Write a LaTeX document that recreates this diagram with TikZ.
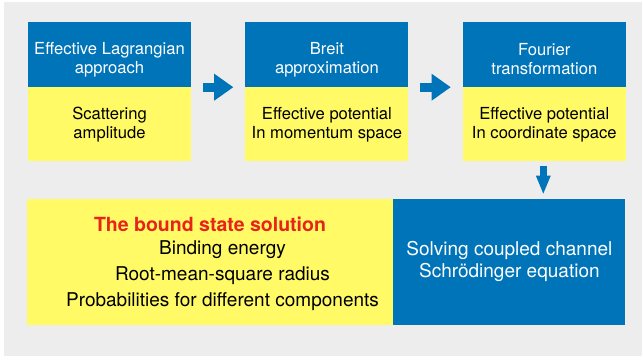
\documentclass[tikz,border=0pt]{standalone}
\usepackage{fontspec}
\setmainfont{TeX Gyre Heros}
\usepackage{xcolor}
\usepackage{tikz}
\usetikzlibrary{arrows.meta, positioning, calc}
\definecolor{hblue}{RGB}{0,116,185}
\definecolor{byellow}{RGB}{255,250,102}
\definecolor{bggray}{RGB}{237,237,237}
\definecolor{tred}{RGB}{232,35,26}
\tikzset{
    head/.style={
        rectangle,
        fill=hblue,
        inner sep=0pt,
        minimum width=163pt,
        minimum height=65pt,
    },
    headtxt/.style={
        align=center,
        text=white,
        inner sep=0pt,
        font=\fontsize{16.6}{19}\selectfont,
    },
    body/.style={
        rectangle,
        fill=byellow,
        inner sep=0pt,
        minimum width=163pt,
        minimum height=74pt,
        align=center,
        font=\fontsize{16.6}{19}\selectfont,
    },
    flow/.style={
        draw=hblue,
        line width=9pt,
        -{Triangle[length=19pt,width=27pt,line width=0pt]},
    },
    flowdown/.style={
        draw=hblue,
        line width=7pt,
        -{Triangle[length=18pt,width=15pt,line width=0pt]},
    },
}

\begin{document}
\begin{tikzpicture}[x=1pt,y=-1pt]
      \useasboundingbox (0,0) rectangle (642,358);
      \fill[bggray] (4,2) rectangle (642,356);

      \node [head] (lag) at (109.5,54.5) {};
      \node [headtxt] (lagtxt) at ([yshift=-5.5pt]lag.center) {Effective Lagrangian\\approach};
      \node [body, below=0pt of lag] (amp) {Scattering\\amplitude};

      \node [head, right=54pt of lag] (breit) {};
      \node [headtxt] (breittxt) at ([yshift=-5.5pt]breit.center) {Breit\\approximation};
      \node [body, below=0pt of breit] (mom) {Effective potential\\In momentum space};

      \node [head, right=54pt of breit] (fourier) {};
      \node [headtxt] (fouriertxt) at ([yshift=-5pt]fourier.center) {Fourier\\transformation};
      \node [body, below=0pt of fourier] (coord) {Effective potential\\In coordinate space};

      \node [rectangle, fill=byellow, inner sep=0pt, minimum width=366pt, minimum height=126pt,
             anchor=north west] (bound) at ([xshift=-1pt,yshift=-37pt]amp.south west) {};
      \node [anchor=base, inner sep=0pt, text=tred, font=\fontsize{19.5}{22}\selectfont\bfseries]
            (boundtitle) at ([yshift=-32.7pt]bound.north) {The bound state solution};
      \node [align=center, inner sep=0pt, font=\fontsize{19}{26.3}\selectfont]
            (boundlist) at ([xshift=12.5pt,yshift=-13.8pt]bound.center)
            {Binding energy\\Root-mean-square radius\\Probabilities for different components};

      \node [rectangle, fill=hblue, inner sep=0pt, minimum width=232pt, minimum height=126pt,
             right=0pt of bound, align=center, text=white, font=\fontsize{19}{21.7}\selectfont]
            (solve) {Solving coupled channel\\Schr\"odinger equation};

      \draw[flow] ([xshift=12pt]lag.south east) -- ([xshift=-12pt]breit.south west);
      \draw[flow] ([xshift=11pt]breit.south east) -- ([xshift=-12pt]fourier.south west);
      \draw[flowdown] ([xshift=-1pt,yshift=-4pt]coord.south) -- ([xshift=-1pt,yshift=5pt]coord.south |- solve.north);

\end{tikzpicture}
\end{document}
